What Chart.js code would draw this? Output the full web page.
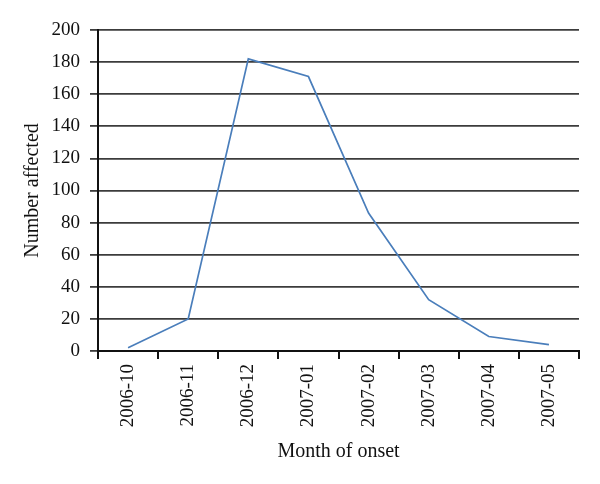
<!DOCTYPE html>
<html>
<head>
<meta charset="utf-8">
<script src="https://cdn.jsdelivr.net/npm/chart.js@4/dist/chart.umd.min.js"></script>
<style>
  html, body { margin: 0; padding: 0; background: #fff; }
  #wrap { width: 600px; height: 484px; }
</style>
</head>
<body>
<div id="wrap"><canvas id="onsetChart"></canvas></div>
<script>
const months = ['2006-10', '2006-11', '2006-12', '2007-01', '2007-02', '2007-03', '2007-04', '2007-05'];
const affected = [2, 20, 182, 171, 86, 32, 9, 4];
const yTicks = [0, 20, 40, 60, 80, 100, 120, 140, 160, 180, 200];

const serif = '"Liberation Serif", "DejaVu Serif", serif';
const ink = '#111111';
const gridColor = '#3c3c3c';

const ctx = document.getElementById('onsetChart').getContext('2d');
new Chart(ctx, {
  type: 'line',
  data: {
    labels: months,
    datasets: [{
      label: 'Number affected',
      data: affected,
      borderColor: '#4a7ebb',
      borderWidth: 1.7,
      pointRadius: 0,
      tension: 0,
      fill: false,
    }],
  },
  options: {
    responsive: true,
    maintainAspectRatio: false,
    animation: false,
    layout: { padding: { left: 0, right: 21, top: 30, bottom: 0 } },
    plugins: {
      legend: { display: false },
      tooltip: { enabled: false },
    },
    scales: {
      x: {
        offset: true,
        grid: {
          offset: true,
          drawOnChartArea: false,
          drawTicks: true,
          tickLength: 8,
          color: ink,
          lineWidth: 2,
        },
        border: { color: ink, width: 2 },
        ticks: {
          color: ink,
          font: { family: serif, size: 19 },
          minRotation: 90,
          maxRotation: 90,
          padding: 5,
        },
        title: {
          display: true,
          text: 'Month of onset',
          color: ink,
          font: { family: serif, size: 20 },
          padding: { top: 0, bottom: 20 },
        },
        afterFit(scale) { scale.height = 133; },
      },
      y: {
        min: 0,
        max: 200,
        afterBuildTicks(scale) { scale.ticks = yTicks.map(v => ({ value: v })); },
        grid: {
          color: gridColor,
          lineWidth: 1.8,
          drawTicks: true,
          tickLength: 8,
        },
        border: { color: ink, width: 2 },
        ticks: {
          color: ink,
          font: { family: serif, size: 19 },
          padding: 10,
        },
        title: {
          display: true,
          text: 'Number affected',
          color: ink,
          font: { family: serif, size: 20 },
          padding: { top: 21, bottom: 0 },
        },
        afterFit(scale) { scale.width = 98; },
      },
    },
  },
});
</script>
</body>
</html>
